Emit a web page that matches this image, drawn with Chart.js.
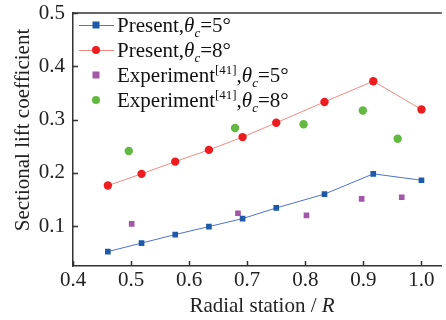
<!DOCTYPE html>
<html lang="en">
<head>
    <meta charset="UTF-8">
    <title>Sectional lift coefficient</title>
    <script src="https://cdn.jsdelivr.net/npm/chart.js"></script>
    <style>
        html, body { margin: 0; padding: 0; background: #fff; }
        #wrap { position: relative; width: 446px; height: 320px; }
    </style>
</head>
<body>
    <div id="wrap"><canvas id="liftChart"></canvas></div>
    <script>
        // Radial stations of the computed sections
        const radial = [0.46, 0.518, 0.576, 0.634, 0.692, 0.75, 0.833, 0.917, 1.0];
        const present5 = [0.052, 0.068, 0.084, 0.099, 0.114, 0.134, 0.160, 0.198, 0.186];
        const present8 = [0.176, 0.198, 0.221, 0.243, 0.267, 0.294, 0.333, 0.372, 0.319];

        // Measured sections
        const expRadial5 = [0.501, 0.684, 0.802, 0.897, 0.966];
        const expLift5 = [0.104, 0.124, 0.120, 0.151, 0.154];
        const expRadial8 = [0.496, 0.679, 0.797, 0.899, 0.959];
        const expLift8 = [0.241, 0.284, 0.291, 0.317, 0.264];

        const xTicks = [0.4, 0.5, 0.6, 0.7, 0.8, 0.9, 1.0];
        const yTicks = [0.1, 0.2, 0.3, 0.4, 0.5];

        const FONT = 'Liberation Serif, Times New Roman, serif';
        const FS = 21;
        const AXIS = '#333';

        const pts = (xs, ys) => xs.map((x, i) => ({ x: x, y: ys[i] }));

        const series = [
            { label: 'Present 5', data: pts(radial, present5), line: '#4f72cf', fill: '#1d5aa8', style: 'rect', r: 4, showLine: true },
            { label: 'Present 8', data: pts(radial, present8), line: '#f28a80', fill: '#ee1c1f', style: 'circle', r: 4.2, showLine: true },
            { label: 'Experiment 5', data: pts(expRadial5, expLift5), line: '#a457a8', fill: '#a457a8', style: 'rect', r: 4, showLine: false },
            { label: 'Experiment 8', data: pts(expRadial8, expLift8), line: '#62b940', fill: '#62b940', style: 'circle', r: 4.2, showLine: false }
        ];

        // text pieces: [text, size, italic, dy]
        const legendText = [
            [['Present,', FS], ['θ', FS, true], ['c', 13, true, 5], ['=5°', FS]],
            [['Present,', FS], ['θ', FS, true], ['c', 13, true, 5], ['=8°', FS]],
            [['Experiment', FS], ['[41]', 13, false, -8], [',', FS], ['θ', FS, true], ['c', 13, true, 5], ['=5°', FS]],
            [['Experiment', FS], ['[41]', 13, false, -8], [',', FS], ['θ', FS, true], ['c', 13, true, 5], ['=8°', FS]]
        ];

        function drawPieces(ctx, pieces, x, y) {
            pieces.forEach(p => {
                ctx.font = (p[2] ? 'italic ' : '') + p[1] + 'px ' + FONT;
                ctx.fillText(p[0], x, y + (p[3] || 0));
                x += ctx.measureText(p[0]).width;
            });
        }

        function marker(ctx, s, x, y) {
            ctx.fillStyle = s.fill;
            if (s.style === 'rect') {
                ctx.fillRect(x - s.r, y - s.r, s.r * 2, s.r * 2);
            } else {
                ctx.beginPath();
                ctx.arc(x, y, s.r, 0, Math.PI * 2);
                ctx.fill();
            }
        }

        const decorations = {
            id: 'decorations',
            afterDraw(chart) {
                const ctx = chart.ctx;
                const xs = chart.scales.x, ys = chart.scales.y;
                const a = chart.chartArea;
                ctx.save();
                ctx.strokeStyle = AXIS;
                ctx.lineWidth = 1.5;
                // top frame line
                ctx.beginPath();
                ctx.moveTo(a.left, a.top);
                ctx.lineTo(a.right, a.top);
                ctx.stroke();
                // inward ticks
                ctx.beginPath();
                xTicks.forEach(v => {
                    const px = Math.round(xs.getPixelForValue(v)) + 0.5;
                    ctx.moveTo(px, a.bottom);
                    ctx.lineTo(px, a.bottom - 5);
                });
                yTicks.forEach(v => {
                    const py = Math.round(ys.getPixelForValue(v)) + 0.5;
                    ctx.moveTo(a.left, py);
                    ctx.lineTo(a.left + 5, py);
                });
                ctx.stroke();

                // legend
                ctx.textBaseline = 'alphabetic';
                ctx.textAlign = 'left';
                series.forEach((s, i) => {
                    const cy = a.top + 12 + i * 25;
                    if (s.showLine) {
                        ctx.strokeStyle = s.line;
                        ctx.lineWidth = 1;
                        ctx.beginPath();
                        ctx.moveTo(79, cy + 0.5);
                        ctx.lineTo(114, cy + 0.5);
                        ctx.stroke();
                    }
                    marker(ctx, Object.assign({}, s, { r: s.style === 'rect' ? 3.5 : 4 }), 96, cy);
                    ctx.fillStyle = '#111';
                    drawPieces(ctx, legendText[i], 117, cy + 7);
                });

                // axis titles
                ctx.fillStyle = '#222';
                ctx.textAlign = 'left';
                const xt = [['Radial station / ', FS], ['R', FS, true]];
                ctx.font = FS + 'px ' + FONT;
                let w = ctx.measureText(xt[0][0]).width;
                ctx.font = 'italic ' + FS + 'px ' + FONT;
                w += ctx.measureText('R').width;
                drawPieces(ctx, xt, 262 - w / 2, 312);

                ctx.translate(29, 130);
                ctx.rotate(-Math.PI / 2);
                ctx.textAlign = 'center';
                ctx.font = FS + 'px ' + FONT;
                ctx.fillText('Sectional lift coefficient', 0, 0);
                ctx.restore();
            }
        };

        new Chart(document.getElementById('liftChart'), {
            type: 'scatter',
            data: {
                datasets: series.map(s => ({
                    label: s.label,
                    data: s.data,
                    showLine: s.showLine,
                    borderColor: s.line,
                    borderWidth: 1,
                    pointStyle: s.style,
                    pointRadius: s.r,
                    pointBackgroundColor: s.fill,
                    pointBorderColor: s.fill,
                    pointBorderWidth: 0,
                    tension: 0
                }))
            },
            options: {
                responsive: true,
                maintainAspectRatio: false,
                animation: false,
                layout: { padding: { top: 13, right: 0, left: 0, bottom: 0 } },
                plugins: {
                    legend: { display: false },
                    tooltip: { enabled: false }
                },
                scales: {
                    x: {
                        type: 'linear',
                        min: 0.4,
                        max: 1.035,
                        afterBuildTicks: s => { s.ticks = xTicks.map(v => ({ value: v })); },
                        afterFit: s => { s.height = 54; s.paddingLeft = 0; s.paddingRight = 0; },
                        grid: { display: false, tickLength: 0 },
                        border: { display: true, color: AXIS, width: 1.5 },
                        ticks: {
                            color: '#222',
                            padding: 2,
                            maxRotation: 0,
                            font: { family: FONT, size: FS },
                            callback: v => v.toFixed(1)
                        }
                    },
                    y: {
                        min: 0.025,
                        max: 0.5,
                        afterBuildTicks: s => { s.ticks = yTicks.map(v => ({ value: v })); },
                        afterFit: s => { s.width = 73; s.paddingTop = 0; s.paddingBottom = 0; },
                        grid: { display: false, tickLength: 0 },
                        border: { display: true, color: AXIS, width: 1.5 },
                        ticks: {
                            color: '#222',
                            padding: 8,
                            font: { family: FONT, size: FS },
                            callback: v => v.toFixed(1)
                        }
                    }
                }
            },
            plugins: [decorations]
        });
    </script>
</body>
</html>
